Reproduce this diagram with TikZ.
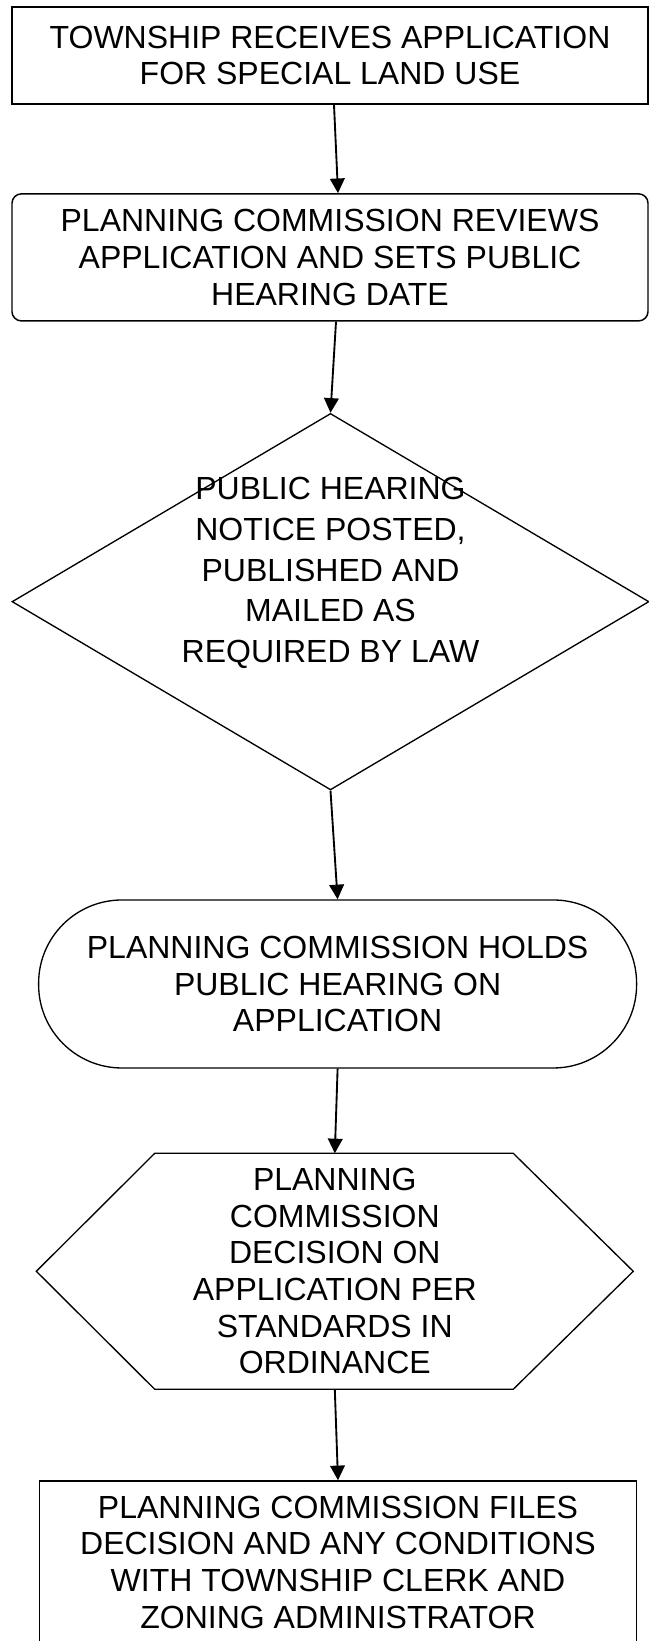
\documentclass[tikz,border=0pt]{standalone}
\usepackage{fontspec}
\setmainfont{Liberation Sans}
\usetikzlibrary{arrows.meta,positioning,calc,shapes.geometric}

\tikzset{
  flowtext/.style={align=center,font=\fontsize{24}{27.5}\selectfont,inner sep=0pt},
  plainbox/.style={flowtext,draw,line width=1.4pt,minimum width=636*0.75pt},
  roundbox/.style={plainbox,line width=1.1pt,rounded corners=7pt},
  decide/.style={draw,diamond,line width=1pt,inner sep=0pt,
    minimum width=637*0.75pt,minimum height=376.5*0.75pt},
  terminal/.style={flowtext,draw,line width=1pt,rounded corners=62.5pt,
    minimum width=598*0.75pt,minimum height=168*0.75pt},
  flowarrow/.style={line width=1.4pt,-{Triangle[length=11pt,width=11pt]}}
}

\begin{document}
\begin{tikzpicture}[x=0.75pt,y=0.75pt]
  \useasboundingbox (0,0) rectangle (649,1641);
  \clip (0,0) rectangle (649,1641);

  \node[plainbox,minimum height=97*0.75pt] (recv) at (330,1585.6)
    {TOWNSHIP RECEIVES APPLICATION\\FOR SPECIAL LAND USE};
  \node[roundbox,minimum height=127*0.75pt] (review) at (330,1383.6)
    {PLANNING COMMISSION REVIEWS\\APPLICATION AND SETS PUBLIC\\HEARING DATE};

  % notice step: diamond with its text set a bit above the middle
  \node[decide] (notice) at (330.5,1039.3) {};
  \node[flowtext,font=\fontsize{24}{30.6}\selectfont] (noticetxt) at (330.5,1068)
    {PUBLIC HEARING\\NOTICE POSTED,\\PUBLISHED AND\\MAILED AS\\REQUIRED BY LAW};

  \node[terminal] (hearing) at (337.6,657)
    {PLANNING COMMISSION HOLDS\\PUBLIC HEARING ON\\APPLICATION};

  % decision step: hexagon drawn round a plain text node
  \node[flowtext,minimum width=596.4*0.75pt,minimum height=235.4*0.75pt] (decision)
    at (334.8,369.7)
    {PLANNING\\COMMISSION\\DECISION ON\\APPLICATION PER\\STANDARDS IN\\ORDINANCE};
  \draw[line width=1pt] (decision.west) -- ($(decision.north west)+(118.4,0)$)
    -- ($(decision.north east)+(-120,0)$) -- (decision.east)
    -- ($(decision.south east)+(-120,0)$) -- ($(decision.south west)+(118.4,0)$)
    -- cycle;

  \node[plainbox,line width=1.1pt,minimum width=596.5*0.75pt,
        minimum height=162*0.75pt] (files) at (338,79)
    {PLANNING COMMISSION FILES\\DECISION AND ANY CONDITIONS\\WITH TOWNSHIP CLERK AND\\ZONING ADMINISTRATOR};

  \draw[flowarrow] ([xshift=3pt]recv.south) -- ([xshift=6pt]review.north);
  \draw[flowarrow] ([xshift=4.5pt]review.south) -- (notice.north);
  \draw[flowarrow] (notice.south) -- (hearing.north);
  \draw[flowarrow] (hearing.south) -- (decision.north);
  \draw[flowarrow] (decision.south) -- (files.north);
\end{tikzpicture}
\end{document}
